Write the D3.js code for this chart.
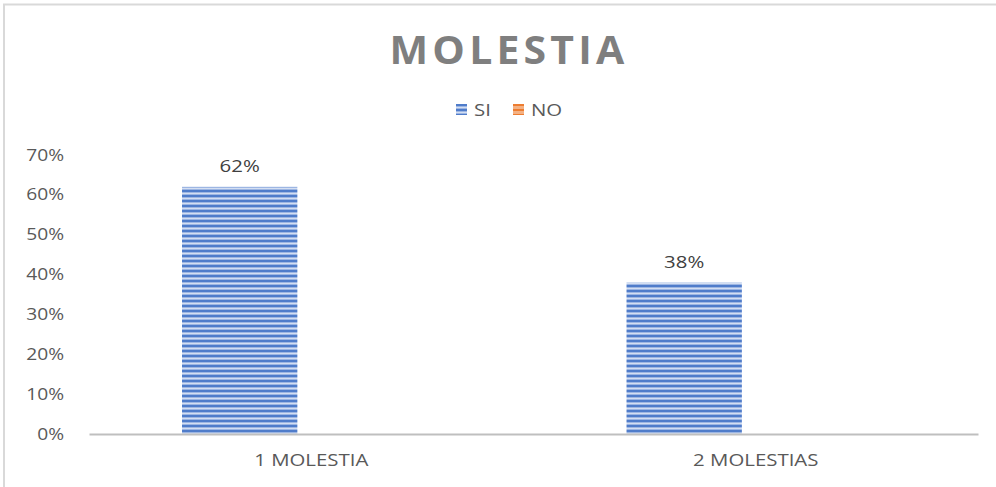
<!DOCTYPE html>
<html>
<head>
<meta charset="utf-8">
<script src="https://cdn.jsdelivr.net/npm/d3@7"></script>
<style>
  body { margin: 0; background: #fff; }
  #chart { width: 996px; height: 487px; }
</style>
</head>
<body>
<div id="chart"></div>
<script>
const categories = ["1 MOLESTIA", "2 MOLESTIAS"];
const seriesNames = ["SI", "NO"];
const siValues = [0.62, 0.38];
const noValues = [0, 0];
const yTicks = [0, 0.1, 0.2, 0.3, 0.4, 0.5, 0.6, 0.7];

const W = 996, H = 487;
const margin = { top: 155, right: 18, bottom: 53, left: 89 };
const width = W - margin.left - margin.right;
const height = H - margin.top - margin.bottom;
const font = "'Open Sans', sans-serif";
const sx = 1.2; // the original text is a bit wide

const svg = d3.select("#chart").append("svg")
  .attr("width", W).attr("height", H);

// stripe pattern for the bars
const defs = svg.append("defs");
const pat = defs.append("pattern")
  .attr("id", "stripes").attr("patternUnits", "userSpaceOnUse")
  .attr("width", 8).attr("height", 5);
pat.append("rect").attr("width", 8).attr("height", 5).attr("fill", "#9db6e3");
pat.append("rect").attr("y", 0).attr("width", 8).attr("height", 2).attr("fill", "#4f7cca");
pat.append("rect").attr("y", 3).attr("width", 8).attr("height", 1).attr("fill", "#d3def2");
const patNo = defs.append("pattern")
  .attr("id", "stripesNo").attr("patternUnits", "userSpaceOnUse")
  .attr("width", 8).attr("height", 5);
patNo.append("rect").attr("width", 8).attr("height", 5).attr("fill", "#f4b183");
patNo.append("rect").attr("width", 8).attr("height", 2).attr("fill", "#ed7d31");

// frame
svg.append("path")
  .attr("d", `M4,${H} L4,4.5 L${W},4.5`)
  .attr("fill", "none").attr("stroke", "#d9d9d9").attr("stroke-width", 2);

// title
svg.append("text")
  .attr("transform", `translate(509,64) scale(1.05,1)`)
  .attr("text-anchor", "middle")
  .style("font-family", font).style("font-weight", "bold")
  .style("font-size", "39px").style("letter-spacing", "4px")
  .attr("fill", "#7f7f7f")
  .text("MOLESTIA");

// legend
const legendColors = { SI: "url(#stripes)", NO: "url(#stripesNo)" };
const legendX = [456, 513];
seriesNames.forEach((s, i) => {
  const g = svg.append("g").attr("transform", `translate(${legendX[i]},104)`);
  g.append("rect").attr("width", 11).attr("height", 11).attr("fill", legendColors[s]);
  g.append("text").attr("transform", `translate(18,12) scale(${sx},1)`)
    .style("font-family", font).style("font-size", "17px")
    .attr("fill", "#595959").text(s);
});

const g = svg.append("g").attr("transform", `translate(${margin.left},${margin.top})`);

const x0 = d3.scaleBand().domain(categories).range([0, width]);
const x1 = d3.scaleBand().domain(seriesNames)
  .range([0, x0.bandwidth()]).paddingInner(0.171).paddingOuter(0.683);
const y = d3.scaleLinear().domain([0, 0.7]).range([height, 0]);

// y axis labels
const yAxis = g.append("g")
  .call(d3.axisLeft(y).tickValues(yTicks).tickFormat(d3.format(".0%")).tickSize(0));
yAxis.select(".domain").remove();
yAxis.selectAll("text")
  .attr("x", -25 / sx)
  .attr("transform", `scale(${sx},1)`)
  .style("font-family", font).style("font-size", "16px").attr("fill", "#595959");

// bars
const rows = categories.map((c, i) => ({ cat: c, SI: siValues[i], NO: noValues[i] }));
const groups = g.selectAll(".grp").data(rows).join("g")
  .attr("class", "grp")
  .attr("transform", d => `translate(${x0(d.cat)},0)`);

groups.selectAll("rect")
  .data(d => seriesNames.map(s => ({ s, v: d[s] })))
  .join("rect")
  .attr("x", d => x1(d.s) - 2)
  .attr("y", d => y(d.v))
  .attr("width", x1.bandwidth())
  .attr("height", d => height - y(d.v))
  .attr("fill", d => legendColors[d.s]);

// data labels for SI
groups.append("text")
  .attr("transform", d => `translate(${x1("SI") - 2 + x1.bandwidth() / 2},${y(d.SI) - 15}) scale(${sx},1)`)
  .attr("text-anchor", "middle")
  .style("font-family", font).style("font-size", "17px")
  .attr("fill", "#404040")
  .text(d => d3.format(".0%")(d.SI));

// x axis
const xAxis = g.append("g").attr("transform", `translate(0,${height})`)
  .call(d3.axisBottom(x0).tickSize(0).tickPadding(20));
xAxis.select(".domain").attr("stroke", "#bfbfbf").attr("stroke-width", 2);
xAxis.selectAll("text")
  .attr("transform", `scale(${sx},1)`)
  .style("font-family", font).style("font-size", "17px").attr("fill", "#595959");
</script>
</body>
</html>
